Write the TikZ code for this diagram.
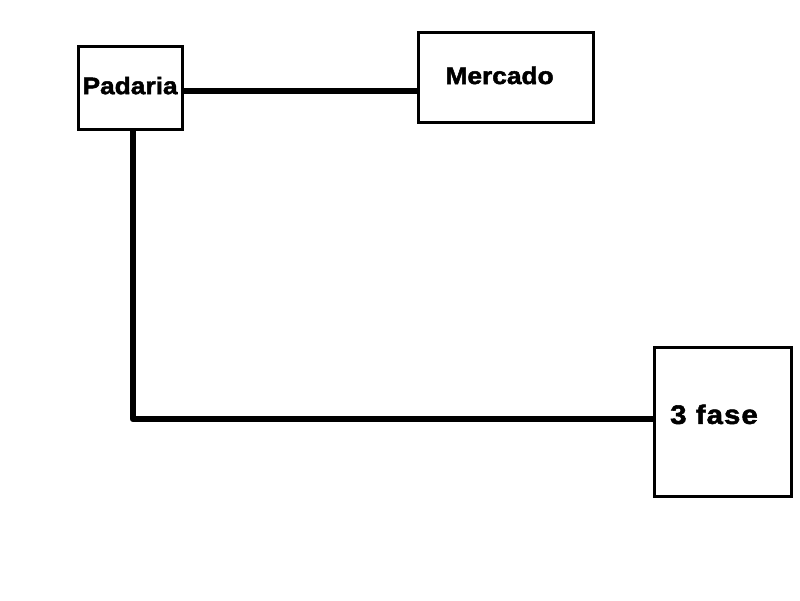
\documentclass[tikz,border=0pt]{standalone}
\usepackage{fontspec}
\setmainfont{Liberation Sans}
\newfontfamily\rotulo[FakeStretch=1.1, FakeBold=2]{Liberation Sans Bold}
\newfontfamily\rotulolargo[FakeStretch=1.1, FakeBold=2, LetterSpace=4]{Liberation Sans Bold}
\usepackage{tikz}

\tikzset{
  caixa/.style={draw=black, line width=2.1pt, fill=white, inner sep=0pt},
  texto/.style={font=\fontsize{17}{19}\rotulo},
  textogrande/.style={font=\fontsize{19}{21}\rotulolargo},
  fio/.style={draw=black, line width=4.6pt, line join=round}
}

\begin{document}
\begin{tikzpicture}

\useasboundingbox[fill=white] (0, 0) rectangle (20, 15);

\node (padaria) at (3.2625, 12.8) [caixa, minimum width=2.6cm, minimum height=2.075cm,
  label={[texto, xshift=-0.01cm, yshift=0.06cm]center:Padaria}] {};
\node (mercado) at (12.65, 13.0625) [caixa, minimum width=4.375cm, minimum height=2.25cm,
  label={[texto, xshift=-0.16cm, yshift=0.05cm]center:Mercado}] {};
\node (fase) at (18.075, 4.45) [caixa, minimum width=3.425cm, minimum height=3.725cm,
  label={[textogrande, xshift=-0.225cm, yshift=0.19cm]center:3 fase}] {};

\coordinate (p1) at ([yshift=-0.075cm]padaria.east);
\coordinate (p2) at ([xshift=0.0625cm]padaria.south);
\draw[fio] (p1) -- (p1 -| mercado.west);
\draw[fio] (p2) |- ([yshift=0.075cm]fase.west);

\end{tikzpicture}
\end{document}
